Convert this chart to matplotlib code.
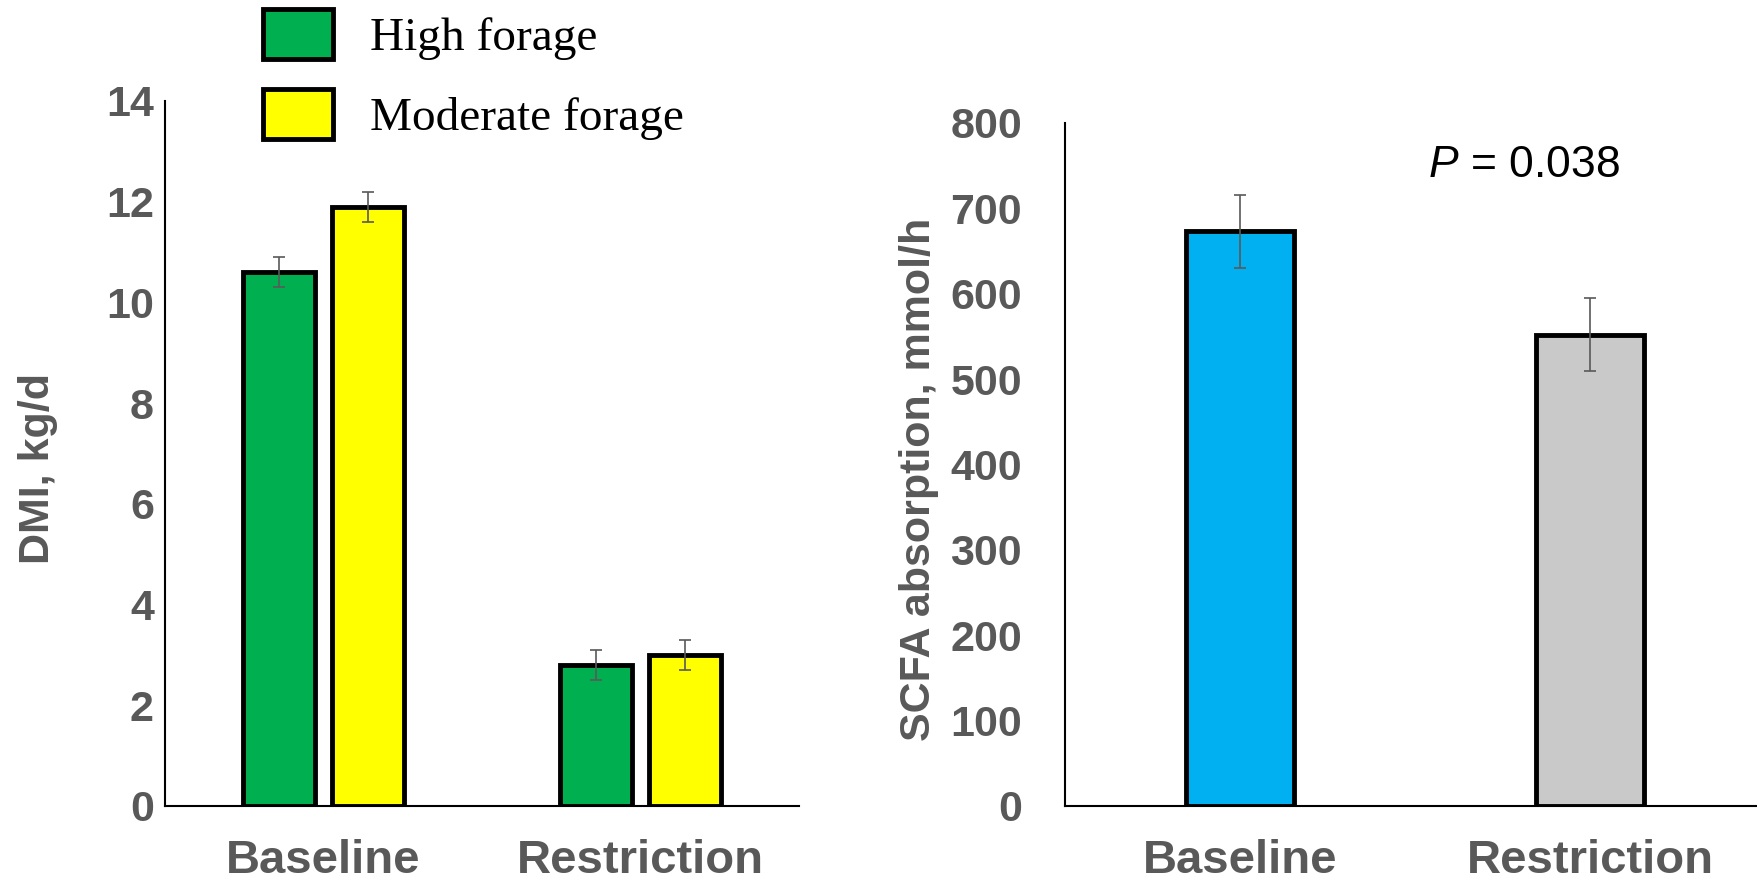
import matplotlib
matplotlib.use("Agg")
import matplotlib.pyplot as plt
import numpy as np

plt.rcParams['font.family'] = ['Liberation Sans', 'DejaVu Sans']
plt.rcParams['mathtext.fontset'] = 'custom'
plt.rcParams['mathtext.rm'] = 'Liberation Sans'
plt.rcParams['mathtext.it'] = 'Liberation Sans:italic'

# DMI by period and diet
periods = ['Baseline', 'Restriction']
diets = ['High forage', 'Moderate forage']
dmi_high = [10.6, 2.8]
dmi_high_se = [0.3, 0.3]
dmi_mod = [11.9, 3.0]
dmi_mod_se = [0.3, 0.3]

# SCFA absorption by period
scfa = [673, 552]
scfa_se = [43, 43]
p_text = r'$\mathit{P}$ = 0.038'

diet_colors = ['#00B050', '#FFFF00']
period_colors = ['#00B0F0', '#C9C9C9']
grey = '#595959'

fig = plt.figure(figsize=(17.58, 8.84), dpi=100)
W, H = 1758, 884

def style_axis(ax, pad):
    for s in ['top', 'right']:
        ax.spines[s].set_visible(False)
    for s in ['left', 'bottom']:
        ax.spines[s].set_linewidth(1.5)
        ax.spines[s].set_color('black')
    ax.tick_params(axis='y', length=0, pad=pad, labelsize=31, labelcolor=grey)
    ax.tick_params(axis='x', length=0, pad=24, labelsize=34, labelcolor=grey)
    for lab in ax.get_xticklabels() + ax.get_yticklabels():
        lab.set_fontweight('bold')

# left panel: DMI
ax1 = fig.add_axes([165 / W, (H - 805.7) / H, 634 / W, 704.7 / H])
x = np.arange(len(periods))
w = 0.229
off = 0.141
err_kw = dict(ecolor=grey, elinewidth=1.2, capsize=4, capthick=1.2)
b1 = ax1.bar(x - off, dmi_high, w, yerr=dmi_high_se, color=diet_colors[0],
             edgecolor='black', linewidth=3.5, label=diets[0], error_kw=err_kw)
b2 = ax1.bar(x + off, dmi_mod, w, yerr=dmi_mod_se, color=diet_colors[1],
             edgecolor='black', linewidth=3.5, label=diets[1], error_kw=err_kw)
ax1.set_xlim(-0.5, 1.5)
ax1.set_ylim(0, 14)
ax1.set_yticks(np.arange(0, 15, 2))
ax1.set_xticks(x)
ax1.set_xticklabels(periods)
style_axis(ax1, 8)
ax1.set_ylabel('DMI, kg/d', fontsize=31, fontweight='bold', color=grey)
ax1.yaxis.set_label_coords(-0.168, 0.479)

leg = ax1.legend(handles=[b1, b2], loc='upper left',
                 bbox_to_anchor=(263 / W, 1 - 9 / H), bbox_transform=fig.transFigure,
                 frameon=False, borderpad=0, borderaxespad=0,
                 handlelength=1.48, handleheight=1.25, handletextpad=0.78,
                 labelspacing=0.62, prop={'family': 'Liberation Serif', 'size': 34})

# right panel: SCFA absorption
ax2 = fig.add_axes([1065 / W, (H - 805.7) / H, 700 / W, 682.7 / H])
ax2.bar(x, scfa, 0.31, yerr=scfa_se, color=period_colors,
        edgecolor='black', linewidth=3.5, error_kw=err_kw)
ax2.set_xlim(-0.5, 1.5)
ax2.set_ylim(0, 800)
ax2.set_yticks(np.arange(0, 801, 100))
ax2.set_xticks(x)
ax2.set_xticklabels(periods)
style_axis(ax2, 31)
ax2.set_ylabel('SCFA absorption, mmol/h', fontsize=31, fontweight='bold', color=grey)
ax2.yaxis.set_label_coords(-0.18, 0.478)
ax2.text(0.81, 750, p_text, fontsize=32, color='black', ha='center', va='center')

fig.savefig('out.png', dpi=100)
